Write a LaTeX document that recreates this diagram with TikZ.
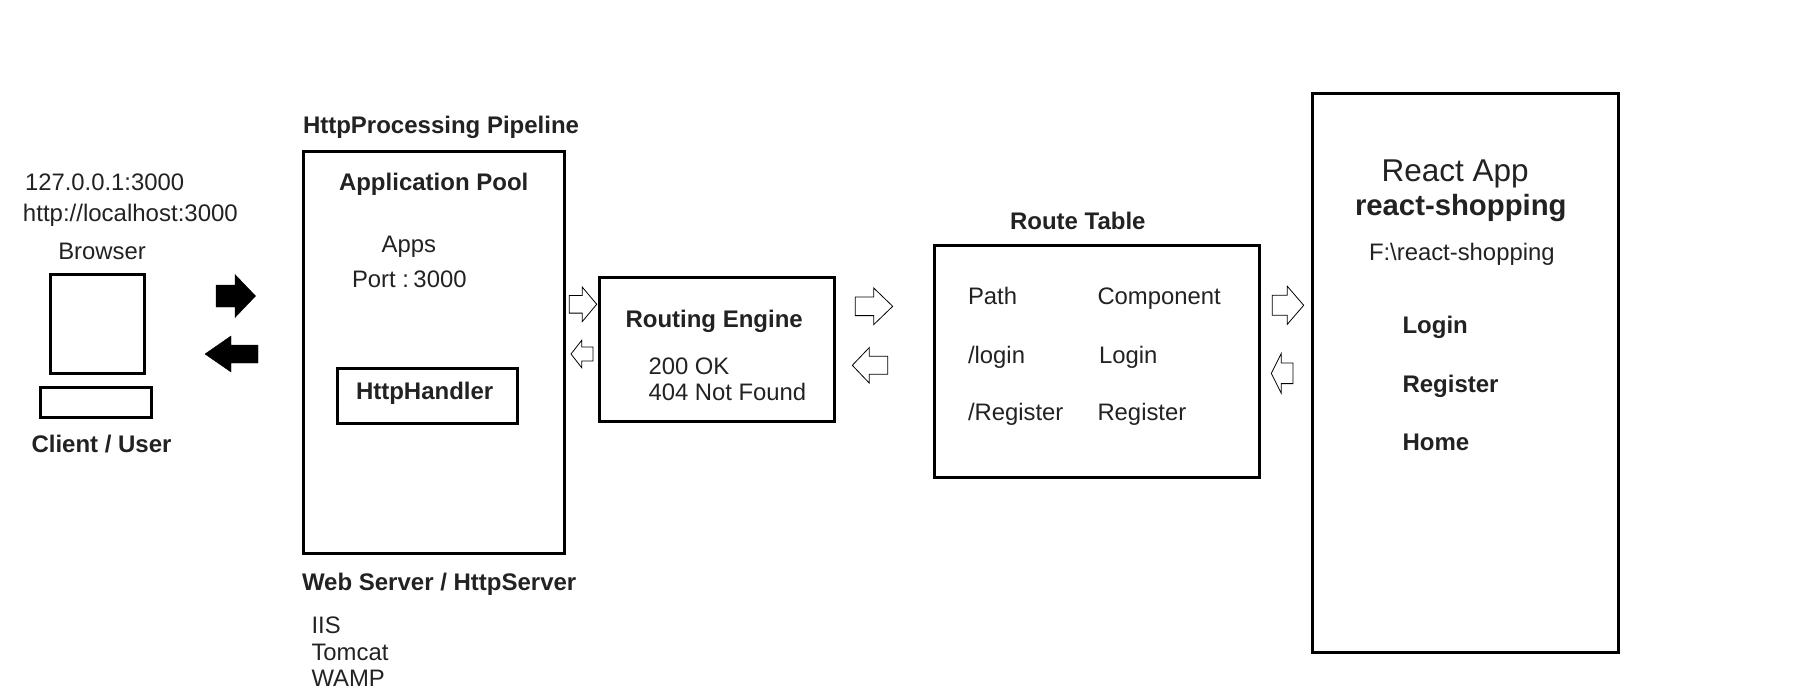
\documentclass[tikz,border=0pt]{standalone}
\usepackage{fontspec}
\setmainfont{Liberation Sans}
\definecolor{ink}{HTML}{222222}
\newcommand{\blockarrow}[7]{% style, tail x, neck x, tip x, centre y, tail half height, head half height
  \draw[#1] (#2,#5-#6) -- (#3,#5-#6) -- (#3,#5-#7) -- (#4,#5) -- (#3,#5+#7) -- (#3,#5+#6) -- (#2,#5+#6) -- cycle;}
\tikzset{
  x=1pt,y=-1pt,
  boxed/.style={draw=black,line width=3pt,fill=white,inner sep=0pt,outer sep=0pt,anchor=north west},
  reg/.style={anchor=base west,inner sep=0pt,outer sep=0pt,text=ink,font=\fontsize{23.85}{26}\selectfont},
  bld/.style={anchor=base west,inner sep=0pt,outer sep=0pt,text=ink,font=\fontsize{24}{26}\selectfont\bfseries},
  hollow/.style={draw=black,line width=0.8pt,fill=white,line join=miter},
  solidarrow/.style={draw=black,line width=0.4pt,fill=black},
}
\begin{document}
\begin{tikzpicture}
\useasboundingbox (0,0) rectangle (1793,694);
% boxes
\node[boxed,minimum width=94pt,minimum height=98.5pt] (monitor) at (50,274.5) {};
\node[boxed,minimum width=111pt,minimum height=30pt] (keyboard) at (40,387.5) {};
\node[boxed,minimum width=260.5pt,minimum height=402pt] (pipeline) at (303.5,151) {};
\node[boxed,minimum width=180pt,minimum height=55pt] (handler) at (337,368.5) {};
\node[boxed,minimum width=235pt,minimum height=144pt] (routing) at (599,277) {};
\node[boxed,minimum width=324.5pt,minimum height=232pt] (route) at (934.5,245) {};
\node[boxed,minimum width=306pt,minimum height=559.5pt] (react) at (1312,93) {};
% solid arrows
\blockarrow{solidarrow}{216}{235}{255.5}{296}{11}{21.5}
\blockarrow{solidarrow}{258}{231}{205}{354}{9}{18}
% hollow arrows
\blockarrow{hollow}{569.3}{582.3}{596.7}{304.3}{8.8}{17.2}
\blockarrow{hollow}{593}{581.7}{571}{354}{7}{13.7}
\blockarrow{hollow}{855.3}{873.7}{892.7}{306.3}{9.3}{18.3}
\blockarrow{hollow}{887.7}{869.3}{852.3}{365.3}{9}{17.8}
\blockarrow{hollow}{1272.3}{1287.3}{1303.7}{305.3}{10}{19}
\blockarrow{hollow}{1293}{1281.3}{1271.3}{373.3}{10.3}{20}
% texts
\node[reg] (ip) at (25,190) {127.0.0.1:3000};
\node[reg,font=\fontsize{24}{26}\selectfont] (host) at (23,221.5) {http://localhost:3000};
\node[reg] (browser) at (58.3,259.7) {Browser};
\node[bld] (client) at (31.5,452.5) {Client / User};
\node[bld] (pipe) at (303,133.5) {HttpProcessing Pipeline};
\node[bld] (pool) at (339,190) {Application Pool};
\node[reg] (apps) at (381.7,252.2) {Apps};
\node[reg] (port) at (352,287.7) {Port :\hspace{4.5pt}3000};
\node[bld] (handlertext) at (356,399) {HttpHandler};
\node[bld] (webserver) at (302,590.4) {Web Server / HttpServer};
\node[reg] (iis) at (311.5,633) {IIS};
\node[reg] (tomcat) at (311.5,660) {Tomcat};
\node[reg] (wamp) at (311.5,686.5) {WAMP};
\node[bld] (engine) at (625.5,327.7) {Routing Engine};
\node[reg] (ok) at (648.5,374) {200 OK};
\node[reg] (nf) at (648.5,400.7) {404 Not Found};
\node[bld] (table) at (1010,229) {Route Table};
\node[reg] (path) at (968,304) {Path};
\node[reg] (comp) at (1097.5,304) {Component};
\node[reg] (plogin) at (968,363.2) {/login};
\node[reg] (clogin) at (1099,363.2) {Login};
\node[reg] (preg) at (968,420.5) {/Register};
\node[reg] (creg) at (1097.5,420.5) {Register};
\node[reg,font=\fontsize{31.5}{33}\selectfont] (app) at (1381.5,181) {React App};
\node[bld,font=\fontsize{29.3}{31}\selectfont\bfseries] (shop) at (1355,215.3) {react-shopping};
\node[reg] (fpath) at (1369,260.7) {F:\textbackslash react-shopping};
\node[bld] (login) at (1402.5,333.3) {Login};
\node[bld] (register) at (1402.5,392) {Register};
\node[bld] (home) at (1402.5,450) {Home};
\end{tikzpicture}
\end{document}
